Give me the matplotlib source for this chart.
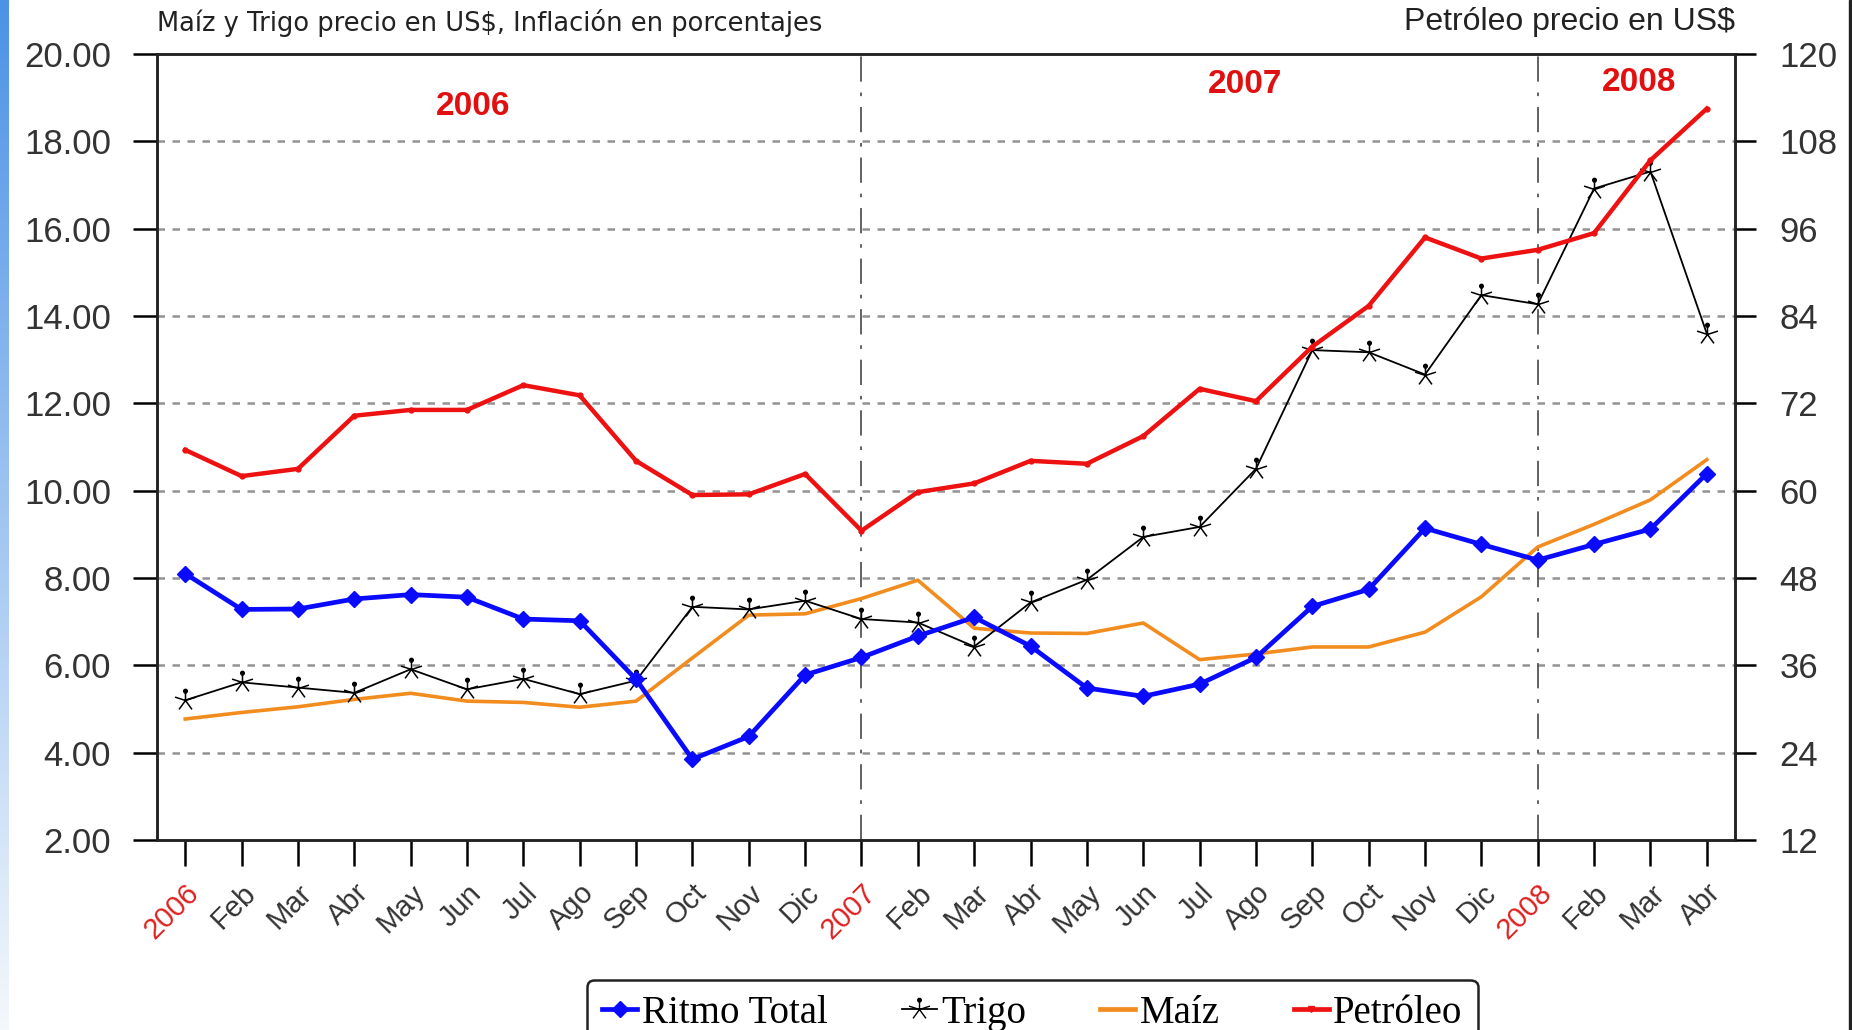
import numpy as np
import matplotlib
matplotlib.use('Agg')
import matplotlib.pyplot as plt
from matplotlib.lines import Line2D
from matplotlib.patches import Rectangle
from matplotlib.path import Path

# month labels, years in red
labels = ['2006', 'Feb', 'Mar', 'Abr', 'May', 'Jun', 'Jul', 'Ago', 'Sep', 'Oct', 'Nov', 'Dic',
          '2007', 'Feb', 'Mar', 'Abr', 'May', 'Jun', 'Jul', 'Ago', 'Sep', 'Oct', 'Nov', 'Dic',
          '2008', 'Feb', 'Mar', 'Abr']
year_labels = ['2006', '2007', '2008']

# inflation (left axis, %)
ritmo_total = [8.10, 7.28, 7.29, 7.52, 7.62, 7.56, 7.06, 7.02, 5.68, 3.85, 4.37, 5.78,
               6.18, 6.67, 7.10, 6.44, 5.48, 5.29, 5.57, 6.18, 7.35, 7.74, 9.14, 8.77,
               8.41, 8.77, 9.12, 10.39]
# wheat and corn price (left axis)
trigo = [5.20, 5.61, 5.49, 5.37, 5.91, 5.45, 5.69, 5.34, 5.65, 7.34, 7.28, 7.48,
         7.06, 6.98, 6.43, 7.44, 7.96, 8.94, 9.17, 10.50, 13.22, 13.17, 12.66, 14.48,
         14.27, 16.92, 17.31, 13.60]
maiz = [4.77, 4.92, 5.05, 5.22, 5.36, 5.18, 5.15, 5.04, 5.18, 6.17, 7.15, 7.18,
        7.53, 7.95, 6.85, 6.74, 6.73, 6.97, 6.13, 6.26, 6.42, 6.42, 6.76, 7.57,
        8.71, 9.23, 9.79, 10.71]
# oil price (right axis, US$)
petroleo = [65.6, 62.0, 63.0, 70.3, 71.1, 71.1, 74.5, 73.1, 64.1, 59.4, 59.5, 62.3,
            54.5, 59.8, 61.0, 64.1, 63.7, 67.5, 74.0, 72.3, 79.8, 85.4, 94.8, 91.9,
            93.1, 95.4, 105.4, 112.5]

left_ticks = np.arange(2, 21, 2)
right_ticks = np.arange(12, 121, 12)

x = np.arange(len(labels))

# asterisk with a dot on its top spoke, like the original wheat marker
spokes = []
for k in range(5):
    a = np.deg2rad(90 + 72 * k)
    spokes.append(Path([(0, 0), (np.cos(a), np.sin(a))], [Path.MOVETO, Path.LINETO]))
star_dot = Path.make_compound_path(*spokes, Path.circle(center=(0, 0.85), radius=0.16))

fig = plt.figure(figsize=(18.52, 10.30), dpi=100)
ax1 = fig.add_axes([0.0848, 0.1845, 0.852, 0.763])
ax2 = ax1.twinx()

# grid and year separators
for v in left_ticks[1:-1]:
    ax1.axhline(v, color='#939393', linestyle=(0, (3, 3)), linewidth=1.8, zorder=1)
for xv in [12, 24]:
    ax1.axvline(xv, color='#555555', linestyle=(0, (14, 6, 2, 6)), linewidth=1.3, zorder=1)

ax1.plot(x, maiz, color='#f28c1e', linewidth=2.6, zorder=3)
ax1.plot(x, trigo, color='black', linewidth=1.3, marker=star_dot, markersize=16,
         markeredgewidth=1.1, markerfacecolor='black', zorder=4)
ax1.plot(x, ritmo_total, color='#0a0aff', linewidth=3.4, marker='D', markersize=8, zorder=5)
ax2.plot(x, petroleo, color='#ee1111', linewidth=3.2, marker='o', markersize=3.5, zorder=5)

ax1.set_xlim(-0.5, len(labels) - 0.5)
ax1.set_ylim(2, 20)
ax2.set_ylim(12, 120)
ax1.set_yticks(left_ticks)
ax1.set_yticklabels(['%.2f' % v for v in left_ticks])
ax2.set_yticks(right_ticks)
ax2.set_yticklabels([str(v) for v in right_ticks])

ax1.set_xticks(x)
ax1.set_xticklabels(labels, rotation=45, ha='right', rotation_mode='anchor',
                    fontsize=21, family='Liberation Sans')
for t in ax1.get_xticklabels():
    t.set_color('#e02020' if t.get_text() in year_labels else '#333333')

ax1.tick_params(axis='y', length=17, width=1.8, pad=16, labelsize=25, labelcolor='#333333')
ax2.tick_params(axis='y', length=15, width=1.8, pad=17, labelsize=25, labelcolor='#333333')
ax1.tick_params(axis='x', length=19, width=1.8, pad=9)
for t in ax1.get_yticklabels() + ax2.get_yticklabels():
    t.set_family('Liberation Sans')
for ax in (ax1, ax2):
    for s in ax.spines.values():
        s.set_linewidth(1.8)
        s.set_color('#222222')

# year headers
for xv, yv, txt in [(5.1, 18.8, '2006'), (18.8, 19.3, '2007'), (25.8, 19.35, '2008')]:
    ax1.text(xv, yv, txt, color='#e01010', fontsize=24, fontweight='bold',
             family='Liberation Sans', ha='center', va='center')

fig.text(0.0848, 0.964, 'Maíz y Trigo precio en US$, Inflación en porcentajes',
         fontsize=18.5, family='DejaVu Sans', color='#222222', va='bottom')
fig.text(0.9368, 0.964, 'Petróleo precio en US$', fontsize=23,
         family='Liberation Sans', color='#222222', ha='right', va='bottom')

handles = [
    Line2D([], [], color='#0a0aff', linewidth=3.4, marker='D', markersize=8),
    Line2D([], [], color='black', linewidth=1.3, marker=star_dot, markersize=16,
           markerfacecolor='black'),
    Line2D([], [], color='#f28c1e', linewidth=3.4),
    Line2D([], [], color='#ee1111', linewidth=3.4, marker='v', markersize=5),
]
leg = fig.legend(handles, ['Ritmo Total', 'Trigo', 'Maíz', 'Petróleo'], ncol=4,
                 loc='upper center', bbox_to_anchor=(0.5575, 0.049), borderaxespad=0,
                 prop={'family': 'Liberation Serif', 'size': 28},
                 handlelength=0.9, handletextpad=0.12, columnspacing=1.9,
                 fancybox=True, edgecolor='#222222', framealpha=1)
leg.get_frame().set_linewidth(1.8)

# blue edge strip on the left, dark line on the right
strip = fig.add_axes([0, 0, 0.0045, 1])
grad = np.linspace(0, 1, 256).reshape(-1, 1)
strip.imshow(grad, aspect='auto', cmap=matplotlib.colors.LinearSegmentedColormap.from_list(
    'edge', ['#4c92e6', '#f4f8fc']))
strip.axis('off')
fig.patches.append(Rectangle((0.9985, 0), 0.0015, 1, transform=fig.transFigure,
                             color='#222222'))

fig.savefig('out.png', dpi=100)
